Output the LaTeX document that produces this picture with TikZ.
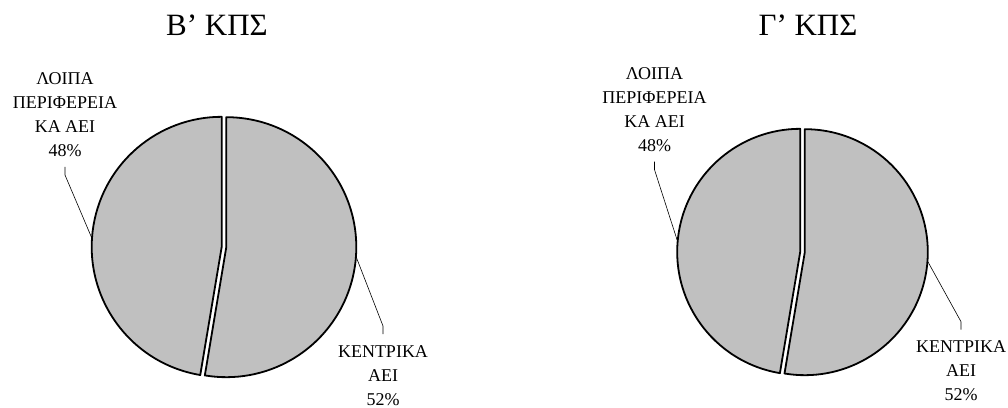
\documentclass[tikz,border=0pt]{standalone}
\usepackage{fontspec}
\setmainfont{Liberation Serif}
\usepackage{tikz}
\usetikzlibrary{calc, positioning}
\definecolor{slicegray}{RGB}{192,192,192}

\begin{document}
\begin{tikzpicture}[x=1pt, y=1pt,
        slice/.style={draw=black, line width=1.8pt, fill=slicegray, line join=round},
        leader/.style={draw=black, line width=0.6pt},
        share/.style={align=center, inner sep=0pt, font=\fontsize{18}{24}\selectfont},
        charttitle/.style={font=\fontsize{31}{36}\selectfont}]
        \useasboundingbox (0,0) rectangle (1008,407);
        % pie centres
        \coordinate (cB) at (224,160);
        \coordinate (cG) at (802.5,155);

        % titles
        \node[charttitle] (tB) at (217,382) {Β’ ΚΠΣ};
        \node[charttitle] (tG) at (808,382) {Γ’ ΚΠΣ};

        % B' pie: 52% slice on the right, 48% on the left, pushed apart a little
        \draw[slice] ($(cB)+(-4.75:2.3)$) -- ++(90:130)
            arc[start angle=90, end angle=-99.5, radius=130] -- cycle;
        \draw[slice] ($(cB)+(175.25:2.3)$) -- ++(-99.5:130)
            arc[start angle=-99.5, end angle=-270, radius=130] -- cycle;

        % G' pie, same split
        \draw[slice] ($(cG)+(-4.75:2.3)$) -- ++(90:123)
            arc[start angle=90, end angle=-99.5, radius=123] -- cycle;
        \draw[slice] ($(cG)+(175.25:2.3)$) -- ++(-99.5:123)
            arc[start angle=-99.5, end angle=-270, radius=123] -- cycle;

        % points on the rims where the leaders end
        \coordinate (rimB1) at ($(cB)+(175.7:133)$);
        \coordinate (rimB2) at ($(cB)+(-4.7:133)$);
        \coordinate (rimG1) at ($(cG)+(174.5:126)$);
        \coordinate (rimG2) at ($(cG)+(-4.6:126)$);

        % slice labels
        \node[share, anchor=south] (restB) at (65,250) {ΛΟΙΠΑ\\ΠΕΡΙΦΕΡΕΙΑ\\ΚΑ ΑΕΙ\\48\%};
        \node[share, anchor=north] (centB) at (383,62) {ΚΕΝΤΡΙΚΑ\\ΑΕΙ\\52\%};
        \node[share, anchor=south] (restG) at (654.5,255.3) {ΛΟΙΠΑ\\ΠΕΡΙΦΕΡΕΙΑ\\ΚΑ ΑΕΙ\\48\%};
        \node[share, anchor=north] (centG) at (961,66.3) {ΚΕΝΤΡΙΚΑ\\ΑΕΙ\\52\%};

        % leaders from labels to slices
        \draw[leader] ([yshift=-10pt]restB.south) -- ++(0,-8) -- (rimB1);
        \draw[leader] ([yshift=11pt]centB.north) -- ++(0,8) -- (rimB2);
        \draw[leader] ([yshift=-10pt]restG.south) -- ++(0,-8) -- (rimG1);
        \draw[leader] ([yshift=11pt]centG.north) -- ++(0,8) -- (rimG2);
\end{tikzpicture}
\end{document}
